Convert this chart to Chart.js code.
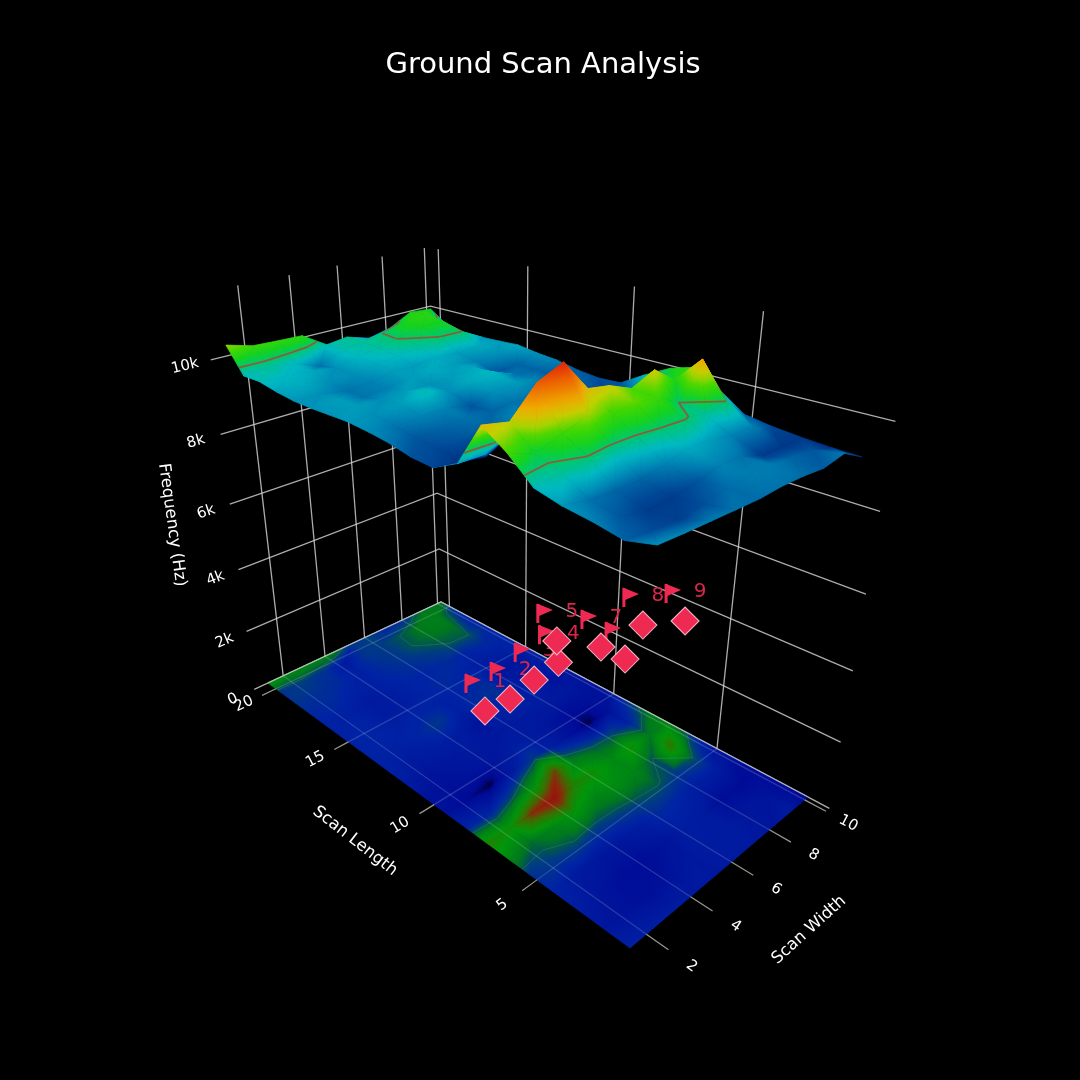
<!DOCTYPE html>
<html>
<head>
    <title>Ground Scan Analysis</title>
    <script src="https://cdn.jsdelivr.net/npm/chart.js"></script>
    <style>
        body { margin: 0; background-color: #000000; }
        canvas { display: block; }
    </style>
</head>
<body>
    <canvas id="chart" width="1080" height="1080"></canvas>
    <script>
        // values
        const scanLengths = [1.2, 2.2, 3.2, 4.3, 5.3, 6.3, 7.3, 8.3, 9.4, 10.4, 11.4, 12.4, 13.5, 14.5, 15.5, 16.5, 17.5, 18.6, 19.6, 20.6];
        const scanWidths = [1.3, 2.3, 3.3, 4.3, 5.3, 6.2, 7.2, 8.2, 9.2, 10.2];
        // one row per scan length, one column per scan width
        const frequency = [
            [9450, 9410, 9380, 9350, 9325, 9350, 9330, 9270, 9370, 9070],
            [9290, 9220, 9170, 9230, 9330, 9380, 9380, 9300, 9250, 9090],
            [9400, 9250, 9150, 9150, 9250, 9400, 9350, 9150, 9130, 9130],
            [9480, 9350, 9300, 9300, 9400, 9550, 9500, 9400, 9400, 9200],
            [9620, 9700, 9780, 9700, 9750, 9800, 9830, 9700, 9800, 9300],
            [10130, 9900, 10100, 10300, 10100, 10200, 10100, 9800, 10620, 9720],
            [10510, 10370, 11000, 11250, 10500, 10400, 10150, 10400, 9980, 10110],
            [9510, 9500, 9800, 10200, 10900, 10000, 9800, 9750, 9500, 9940],
            [9200, 9100, 9000, 9350, 9650, 9400, 9200, 9000, 9200, 9600],
            [9240, 9200, 9250, 9300, 9400, 9350, 9250, 9150, 9200, 9250],
            [9360, 9250, 9300, 9350, 9300, 9350, 9350, 9350, 9300, 9220],
            [9430, 9350, 9400, 9400, 9250, 9450, 9500, 9400, 9250, 9280],
            [9480, 9450, 9500, 9650, 9450, 9550, 9600, 9350, 9300, 9400],
            [9470, 9500, 9450, 9500, 9450, 9500, 9550, 9250, 9300, 9450],
            [9460, 9500, 9350, 9400, 9500, 9550, 9500, 9400, 9450, 9530],
            [9470, 9450, 9350, 9400, 9500, 9500, 9550, 9500, 9550, 9500],
            [9530, 9550, 9450, 9450, 9550, 9600, 9680, 9790, 9800, 9480],
            [9630, 9600, 9550, 9450, 9600, 9680, 9830, 9950, 9950, 9400],
            [9620, 9700, 9600, 9350, 9650, 9700, 9810, 10000, 10050, 9570],
            [10280, 10100, 10070, 10050, 9640, 9710, 9520, 9660, 9970, 9920]
        ];
        const contourLevel = 9800;

        const markerLabels = ['1', '2', '3', '4', '5', '6', '7', '8', '9'];
        const markerLengths = [11.36, 11.25, 11.5, 11.7, 12.85, 5.92, 6.96, 6.88, 6.02];
        const markerWidths = [4.78, 5.9, 7.35, 8.83, 9.88, 5.95, 5.95, 7.9, 9.05];
        const markerHeights = [1000, 1000, 1000, 1000, 1000, 4000, 4000, 4000, 4000];

        const lengthTicks = [5, 10, 15, 20];
        const widthTicks = [2, 4, 6, 8, 10];
        const freqTicks = [0, 2000, 4000, 6000, 8000, 10000];
        const freqTickLabels = ['0', '2k', '4k', '6k', '8k', '10k'];

        // axis box
        const lMin = 1.2, lMax = 20.6, lTickEnd = 0.38, lLabel = -0.45;
        const wMin = 1.3, wMax = 10.2, wTickEnd = 0.68, wLabel = -0.26;
        const zTop = 11700;

        // camera: homogeneous projection of the box onto the page
        function project(length, width, z) {
            const a = (length - lMin) / (lMax - lMin);
            const b = (width - wMin) / (wMax - wMin);
            const c = z / 10000;
            const w = 0.4202 * a + 0.1844 * b - 0.202 * c + 1;
            return {
                x: (-249.4 * a + 327 * b - 103.8 * c + 630) / w,
                y: (22 * a - 4 * b - 536.5 * c + 948) / w,
                depth: w
            };
        }

        const surfaceStops = [
            [9000, 0, 30, 110], [9200, 0, 70, 150], [9400, 0, 130, 180], [9600, 0, 185, 195],
            [9800, 0, 200, 110], [9950, 20, 210, 30], [10150, 70, 215, 0], [10350, 190, 210, 0],
            [10600, 240, 170, 0], [11000, 235, 90, 0], [11250, 225, 35, 10]
        ];
        const floorStops = [
            [9000, 0, 0, 70], [9100, 0, 10, 150], [9500, 0, 35, 165], [9700, 0, 60, 130], [9800, 0, 85, 80],
            [9950, 0, 120, 30], [10300, 0, 150, 10], [10700, 60, 110, 0], [11000, 140, 40, 10],
            [11250, 150, 20, 10]
        ];

        function colorAt(stops, z) {
            if (z <= stops[0][0]) return 'rgb(' + stops[0].slice(1).join(',') + ')';
            for (let i = 1; i < stops.length; i++) {
                if (z <= stops[i][0]) {
                    const s = stops[i - 1], e = stops[i];
                    const t = (z - s[0]) / (e[0] - s[0]);
                    const rgb = [1, 2, 3].map(k => Math.round(s[k] + (e[k] - s[k]) * t));
                    return 'rgb(' + rgb.join(',') + ')';
                }
            }
            return 'rgb(' + stops[stops.length - 1].slice(1).join(',') + ')';
        }

        const ctx = document.getElementById('chart').getContext('2d');

        // z is linear over a triangle, so a linear gradient along its slope gives the exact colour ramp
        function trianglePaint(p, z, stops) {
            const zLow = Math.min(z[0], z[1], z[2]), zHigh = Math.max(z[0], z[1], z[2]);
            const dx1 = p[1].x - p[0].x, dy1 = p[1].y - p[0].y;
            const dx2 = p[2].x - p[0].x, dy2 = p[2].y - p[0].y;
            const det = dx1 * dy2 - dx2 * dy1;
            if (zHigh - zLow < 1 || Math.abs(det) < 0.01) return colorAt(stops, zLow);
            const gx = ((z[1] - z[0]) * dy2 - (z[2] - z[0]) * dy1) / det;
            const gy = ((z[2] - z[0]) * dx1 - (z[1] - z[0]) * dx2) / det;
            const g2 = gx * gx + gy * gy;
            const low = p[z.indexOf(zLow)];
            const span = (zHigh - zLow) / g2;
            const grad = ctx.createLinearGradient(low.x, low.y, low.x + gx * span, low.y + gy * span);
            for (let k = 0; k <= 8; k++) {
                grad.addColorStop(k / 8, colorAt(stops, zLow + (zHigh - zLow) * k / 8));
            }
            return grad;
        }

        const datasets = [];

        function addLine(points, color, width, order) {
            datasets.push({
                data: points.map(p => ({ x: p.x, y: p.y })),
                showLine: true, fill: false, borderColor: color, borderWidth: width,
                pointRadius: 0, tension: 0, order: order, clip: false
            });
        }

        function addTriangle(p, z, stops, order) {
            const paint = trianglePaint(p, z, stops);
            datasets.push({
                data: [p[0], p[1], p[2], p[0]].map(q => ({ x: q.x, y: q.y })),
                showLine: true, fill: 'shape', backgroundColor: paint, borderColor: paint, borderWidth: 0.8,
                pointRadius: 0, tension: 0, order: order, clip: false
            });
        }

        // walls
        const wallColor = 'rgba(215,215,215,0.8)';
        const tickColor = 'rgba(190,190,180,0.8)';
        const floorGridColor = 'rgba(255,255,255,0.17)';
        widthTicks.forEach(w => addLine([project(lMax, w, 0), project(lMax, w, zTop)], wallColor, 1.3, 900000));
        lengthTicks.forEach(l => addLine([project(l, wMax, 0), project(l, wMax, zTop)], wallColor, 1.3, 900000));
        freqTicks.forEach(z => {
            addLine([project(lMax, wTickEnd, z), project(lMax, wMax, z), project(lTickEnd, wMax, z)], wallColor, 1.3, 900000);
        });

        // floor, same values flattened on z = 0
        const cells = [];
        for (let i = 0; i < scanLengths.length - 1; i++) {
            for (let j = 0; j < scanWidths.length - 1; j++) {
                cells.push([i, j]);
            }
        }
        cells.forEach(([i, j]) => {
            const corners = [[i, j], [i + 1, j], [i + 1, j + 1], [i, j + 1]];
            const flat = corners.map(c => project(scanLengths[c[0]], scanWidths[c[1]], 0));
            const zs = corners.map(c => frequency[c[0]][c[1]]);
            addTriangle([flat[0], flat[1], flat[2]], [zs[0], zs[1], zs[2]], floorStops, 800000);
            addTriangle([flat[0], flat[2], flat[3]], [zs[0], zs[2], zs[3]], floorStops, 800000);
        });

        // floor grid and ticks
        lengthTicks.forEach(l => {
            addLine([project(l, wTickEnd, 0), project(l, wMin, 0)], tickColor, 1.2, 700000);
            addLine([project(l, wMin, 0), project(l, wMax, 0)], floorGridColor, 1.2, 700000);
        });
        widthTicks.forEach(w => {
            addLine([project(lTickEnd, w, 0), project(lMin, w, 0)], tickColor, 1.2, 700000);
            addLine([project(lMin, w, 0), project(lMax, w, 0)], floorGridColor, 1.2, 700000);
        });
        addLine([project(lMax, wMin, 0), project(lMax, wMax, 0), project(lMin, wMax, 0)], wallColor, 1.2, 700000);

        // contour segments of one cell at the given level
        function cellContour(i, j) {
            const corners = [[i, j], [i + 1, j], [i + 1, j + 1], [i, j + 1]];
            const hits = [];
            for (let k = 0; k < 4; k++) {
                const s = corners[k], e = corners[(k + 1) % 4];
                const zs = frequency[s[0]][s[1]], ze = frequency[e[0]][e[1]];
                if ((zs < contourLevel) !== (ze < contourLevel)) {
                    const t = (contourLevel - zs) / (ze - zs);
                    hits.push([
                        scanLengths[s[0]] + (scanLengths[e[0]] - scanLengths[s[0]]) * t,
                        scanWidths[s[1]] + (scanWidths[e[1]] - scanWidths[s[1]]) * t
                    ]);
                }
            }
            const segs = [];
            if (hits.length >= 2) segs.push([hits[0], hits[1]]);
            if (hits.length === 4) segs.push([hits[2], hits[3]]);
            return segs;
        }

        // surface: far to near, everything goes through one painter's list
        const surfaceItems = [];
        cells.forEach(([i, j]) => {
            const corners = [[i, j], [i + 1, j], [i + 1, j + 1], [i, j + 1]];
            const zs = corners.map(c => frequency[c[0]][c[1]]);
            const top = corners.map((c, k) => project(scanLengths[c[0]], scanWidths[c[1]], zs[k]));
            const depthOf = t => (top[t[0]].depth + top[t[1]].depth + top[t[2]].depth) / 3;
            [[0, 1, 2], [0, 2, 3]].forEach(t => {
                surfaceItems.push({
                    depth: depthOf(t),
                    draw: order => addTriangle(t.map(k => top[k]), t.map(k => zs[k]), surfaceStops, order)
                });
            });
            cellContour(i, j).forEach(seg => {
                const a = project(seg[0][0], seg[0][1], contourLevel);
                const b = project(seg[1][0], seg[1][1], contourLevel);
                addLine([project(seg[0][0], seg[0][1], 0), project(seg[1][0], seg[1][1], 0)], 'rgba(200,200,200,0.14)', 1, 600000);
                surfaceItems.push({
                    depth: depthOf([0, 1, 2]) - 0.02,
                    draw: order => addLine([a, b], 'rgba(165,75,45,0.85)', 1.8, order)
                });
            });
        });
        surfaceItems.sort((p, q) => q.depth - p.depth);
        surfaceItems.forEach((item, k) => item.draw(surfaceItems.length - k + 1000));

        // markers
        const markerPoints = markerLabels.map((_, i) => project(markerLengths[i], markerWidths[i], markerHeights[i]));
        const markerColor = '#ee2a52';
        const labelColor = '#d9264a';
        datasets.push({
            id: 'markers',
            data: markerPoints.map(p => ({ x: p.x, y: p.y })),
            pointStyle: 'rectRot', pointRadius: 14, backgroundColor: markerColor,
            borderColor: 'rgba(255,205,220,0.85)', borderWidth: 1.1, showLine: false, order: 500, clip: false
        });

        const sceneText = {
            id: 'sceneText',
            // flags and numbers sit under the diamonds
            beforeDatasetDraw(chart, args) {
                if (chart.data.datasets[args.index].id !== 'markers') return;
                const c = chart.ctx;
                const xs = chart.scales.x, ys = chart.scales.y;
                c.save();
                c.textAlign = 'center';
                c.textBaseline = 'middle';
                c.font = '20px "DejaVu Sans"';
                markerPoints.forEach((p, i) => {
                    const px = xs.getPixelForValue(p.x), py = ys.getPixelForValue(p.y);
                    c.fillStyle = markerColor;
                    c.strokeStyle = markerColor;
                    c.lineWidth = 3;
                    c.beginPath();
                    c.moveTo(px - 19, py - 18);
                    c.lineTo(px - 19, py - 37);
                    c.stroke();
                    c.beginPath();
                    c.moveTo(px - 20, py - 37.5);
                    c.lineTo(px - 4, py - 31);
                    c.lineTo(px - 20, py - 24);
                    c.closePath();
                    c.fill();
                    c.fillStyle = labelColor;
                    c.fillText(markerLabels[i], px + 15, py - 29);
                });
                c.restore();
            },
            afterDatasetsDraw(chart) {
                const c = chart.ctx;
                const xs = chart.scales.x, ys = chart.scales.y;
                const label = (text, p, angle, font) => {
                    c.save();
                    c.translate(xs.getPixelForValue(p.x), ys.getPixelForValue(p.y));
                    c.rotate(angle);
                    c.font = font;
                    c.textAlign = 'center';
                    c.textBaseline = 'middle';
                    c.fillStyle = '#ffffff';
                    c.fillText(text, 0, 0);
                    c.restore();
                };
                // tick labels follow their tick line
                const along = (p, q) => {
                    const ang = Math.atan2(q.y - p.y, q.x - p.x);
                    return ang > Math.PI / 2 || ang < -Math.PI / 2 ? ang + Math.PI : ang;
                };
                const tickFont = '15px "DejaVu Sans"';
                freqTicks.forEach((z, i) => {
                    label(freqTickLabels[i], project(lMax, wLabel, z), along(project(lMax, wTickEnd, z), project(lMax, wMin, z)), tickFont);
                });
                lengthTicks.forEach(l => {
                    label(String(l), project(l, -0.12, 0), along(project(l, wTickEnd, 0), project(l, wMin, 0)), tickFont);
                });
                widthTicks.forEach(w => {
                    label(String(w), project(lLabel, w, 0), along(project(lTickEnd, w, 0), project(lMin, w, 0)), tickFont);
                });
                const titleFont = '16.5px "DejaVu Sans"';
                label('Scan Length', { x: 355, y: 841 }, 38 * Math.PI / 180, titleFont);
                label('Scan Width', { x: 809, y: 930 }, -42 * Math.PI / 180, titleFont);
                label('Frequency (Hz)', { x: 172, y: 525 }, 82 * Math.PI / 180, titleFont);
                label('Ground Scan Analysis', { x: 543, y: 65 }, 0, '29px "DejaVu Sans"');
            }
        };

        new Chart(ctx, {
            type: 'scatter',
            data: { datasets: datasets },
            options: {
                responsive: false,
                animation: false,
                events: [],
                layout: { padding: 0, autoPadding: false },
                scales: {
                    x: { type: 'linear', min: 0, max: 1080, display: false },
                    y: { type: 'linear', min: 0, max: 1080, reverse: true, display: false }
                },
                plugins: {
                    legend: { display: false },
                    tooltip: { enabled: false },
                    filler: { drawTime: 'beforeDatasetDraw', propagate: false }
                }
            },
            plugins: [sceneText]
        });
    </script>
</body>
</html>
